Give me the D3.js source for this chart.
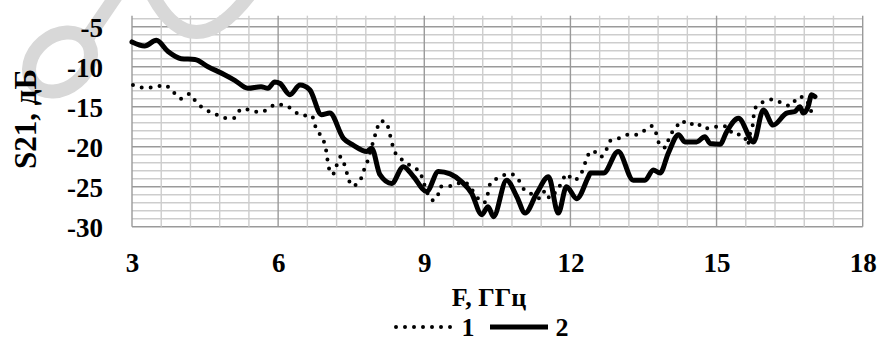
<!DOCTYPE html>
<html><head><meta charset="utf-8">
<script src="https://cdn.jsdelivr.net/npm/d3@7"></script>
<style>html,body{margin:0;padding:0;background:#fff;}svg{display:block;}</style>
</head><body>
<svg id="c" width="880" height="344"></svg>
<script>
// ---- data ----
const xTicks = [3, 6, 9, 12, 15, 18];
const yTicks = [-30, -25, -20, -15, -10, -5];
const seriesNames = ["1", "2"];
const f1 = [3.02,3.23,3.43,3.67,3.84,4.00,4.18,4.32,4.49,4.70,4.90,5.11,5.24,5.42,5.62,5.79,5.96,6.18,6.33,6.52,6.69,6.76,6.86,6.96,7.00,7.03,7.12,7.19,7.28,7.37,7.43,7.51,7.67,7.75,7.83,7.95,8.02,8.09,8.21,8.28,8.33,8.40,8.52,8.81,8.91,8.97,9.17,9.27,9.32,9.58,9.80,10.23,10.31,10.36,10.49,10.76,10.93,11.03,11.17,11.38,11.48,11.58,11.68,11.82,11.92,12.06,12.27,12.33,12.46,12.61,12.73,12.81,13.00,13.19,13.36,13.51,13.67,13.77,13.84,13.96,14.03,14.15,14.28,14.42,14.58,14.73,14.87,15.07,15.24,15.33,15.48,15.57,15.64,15.69,15.74,15.76,15.82,15.96,16.16,16.36,16.51,16.69,16.82,16.92,16.99];
const s1 = [-12.3,-12.6,-12.6,-12.3,-13.1,-14.0,-13.4,-14.45,-15.3,-15.9,-16.4,-16.4,-15.3,-15.4,-15.7,-15.3,-14.7,-14.9,-15.6,-16.1,-16.1,-17.4,-18.5,-19.8,-21.0,-22.4,-23.5,-22.5,-21.25,-22.4,-23.7,-24.9,-24.4,-23.1,-21.9,-19.4,-18.0,-16.8,-16.9,-18.1,-19.4,-20.7,-21.5,-22.7,-23.1,-24.2,-26.7,-26.3,-25.0,-24.9,-24.4,-27.0,-25.75,-24.5,-24.0,-23.4,-24.1,-25.2,-25.8,-26.45,-25.5,-26.45,-25.8,-24.5,-23.4,-24.2,-22.7,-21.45,-20.5,-21.3,-20.5,-19.3,-18.95,-18.5,-18.5,-18.0,-17.4,-18.5,-19.9,-20.1,-18.75,-17.8,-16.75,-17.3,-16.95,-17.7,-17.7,-17.4,-17.5,-18.4,-18.5,-18.7,-19.8,-18.3,-17.4,-16.25,-14.9,-14.4,-14.1,-14.6,-14.9,-13.75,-13.95,-15.2,-16.45];
const f2 = [3.00,3.26,3.50,3.74,4.01,4.29,4.56,4.90,5.11,5.38,5.65,5.79,5.93,6.04,6.24,6.45,6.65,6.89,7.06,7.34,7.54,7.82,7.92,8.09,8.33,8.57,8.78,9.05,9.29,9.53,9.77,9.97,10.18,10.31,10.42,10.69,10.90,11.07,11.31,11.55,11.75,11.92,12.13,12.37,12.41,12.68,12.98,13.29,13.53,13.70,13.84,14.01,14.22,14.35,14.59,14.76,14.87,15.07,15.21,15.45,15.76,15.96,16.16,16.44,16.61,16.71,16.78,16.88,16.95,17.02];
const s2 = [-6.9,-7.4,-6.7,-8.1,-9.0,-9.1,-10.0,-11.0,-11.7,-12.7,-12.5,-12.7,-11.9,-12.1,-13.5,-12.3,-12.9,-16.0,-15.8,-18.95,-19.8,-20.6,-20.2,-23.5,-24.6,-22.5,-23.75,-25.6,-23.1,-23.4,-24.4,-25.8,-28.5,-27.5,-28.75,-24.2,-26.25,-28.3,-25.8,-23.75,-28.3,-25.0,-26.5,-23.75,-23.3,-23.3,-20.6,-24.2,-24.2,-22.9,-23.3,-20.8,-18.5,-19.4,-19.4,-18.75,-19.6,-19.7,-18.1,-16.45,-19.4,-15.4,-17.3,-15.8,-15.6,-15.0,-15.8,-15.0,-13.5,-13.75];
const xLabel = "F, ГГц";
const yLabel = "S21, дБ";

// ---- chart ----
const svg = d3.select("#c");
const FONT = "'Liberation Serif','Times New Roman',serif";
const x = d3.scaleLinear().domain([3, 18]).range([132, 862.7]);
const y = d3.scaleLinear().domain([-30, -4]).range([226.7, 18.7]);

const g = svg.append("g");
// horizontal grid
const hVals = d3.range(-30, -3, 1);
g.selectAll("line.h").data(hVals).join("line")
  .attr("x1", x(3)).attr("x2", x(18))
  .attr("y1", d => y(d)).attr("y2", d => y(d))
  .attr("stroke", d => d % 5 === 0 ? "#9a9a9a" : "#cdcdcd")
  .attr("stroke-width", 1.4);
// vertical grid
const vVals = d3.range(0, 26).map(i => 3 + i * 0.6);
g.selectAll("line.v").data(vVals).join("line")
  .attr("x1", d => x(d)).attr("x2", d => x(d))
  .attr("y1", y(-4) - 3).attr("y2", y(-30))
  .attr("stroke", d => Math.abs(d / 3 - Math.round(d / 3)) < 1e-6 ? "#9a9a9a" : "#cdcdcd")
  .attr("stroke-width", 1.4);

// faint watermark shapes (decoration)
const wm = svg.append("g").attr("fill", "none").attr("stroke", "#d8d8d8").attr("stroke-width", 14).attr("stroke-linecap", "round");
wm.append("ellipse").attr("cx", 60).attr("cy", 62).attr("rx", 34).attr("ry", 26).attr("transform", "rotate(-40,60,62)");
wm.append("path").attr("d", "M86,40 L116,-4");
wm.append("path").attr("d", "M152,-6 Q192,70 250,-6");

// axes labels
const yAxis = d3.axisLeft(y).tickValues(yTicks).tickFormat(d => String(d)).tickSize(0).tickPadding(0);
svg.append("g").attr("transform", "translate(103,0)").call(yAxis)
  .call(s => s.select(".domain").remove())
  .selectAll("text").attr("font-family", FONT).attr("font-size", 27).attr("font-weight", "bold").attr("fill", "#000").attr("dy", "0.35em");
const xAxis = d3.axisBottom(x).tickValues(xTicks).tickFormat(d => String(d)).tickSize(0).tickPadding(0);
svg.append("g").attr("transform", "translate(0,253)").call(xAxis)
  .call(s => s.select(".domain").remove())
  .selectAll("text").attr("font-family", FONT).attr("font-size", 27).attr("font-weight", "bold").attr("fill", "#000");

svg.append("text").attr("x", 489).attr("y", 306).attr("text-anchor", "middle")
  .attr("font-family", FONT).attr("font-size", 26).attr("font-weight", "bold").text(xLabel);
svg.append("text").attr("transform", "translate(36,119) rotate(-90)").attr("text-anchor", "middle")
  .attr("font-family", FONT).attr("font-size", 31).attr("font-weight", "bold").text(yLabel);

// series
const line = d3.line().x(d => x(d[0])).y(d => y(d[1])).curve(d3.curveMonotoneX);
const d1 = f1.map((f, i) => [f, s1[i]]);
const d2 = f2.map((f, i) => [f, s2[i]]);
svg.append("path").attr("d", line(d1)).attr("fill", "none").attr("stroke", "#000")
  .attr("stroke-width", 4).attr("stroke-linecap", "round").attr("stroke-dasharray", "0 9");
svg.append("path").attr("d", line(d2)).attr("fill", "none").attr("stroke", "#000")
  .attr("stroke-width", 5).attr("stroke-linejoin", "round").attr("stroke-linecap", "round");

// legend
const lg = svg.append("g").attr("transform", "translate(0,327)");
lg.append("line").attr("x1", 396).attr("x2", 452).attr("y1", 0).attr("y2", 0)
  .attr("stroke", "#000").attr("stroke-width", 4).attr("stroke-linecap", "round").attr("stroke-dasharray", "0 9");
lg.append("text").attr("x", 468).attr("y", 9).attr("text-anchor", "middle")
  .attr("font-family", FONT).attr("font-size", 26).attr("font-weight", "bold").text(seriesNames[0]);
lg.append("line").attr("x1", 490).attr("x2", 548).attr("y1", 0).attr("y2", 0)
  .attr("stroke", "#000").attr("stroke-width", 5);
lg.append("text").attr("x", 562).attr("y", 9).attr("text-anchor", "middle")
  .attr("font-family", FONT).attr("font-size", 26).attr("font-weight", "bold").text(seriesNames[1]);
</script>
</body></html>
